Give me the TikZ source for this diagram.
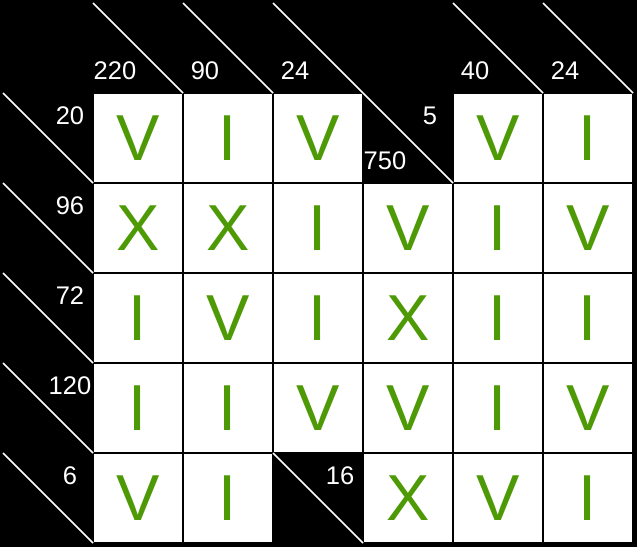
\documentclass[tikz,border=0pt]{standalone}
\usepackage{fontspec}
\setmainfont{Liberation Sans}
\definecolor{leafgreen}{RGB}{78,154,6}
\tikzset{
  cellnode/.style = {rectangle, inner sep=0pt, outer sep=0pt,
    minimum size=90pt, line width=1.5pt},
  letter/.style = {cellnode, draw=black, fill=white, text=leafgreen,
    font=\fontsize{65}{65}\selectfont},% white cell, green numeral
  blank/.style = {cellnode, fill=black},% black cell
  clue/.style = {inner sep=0pt, text=white,
    font=\fontsize{25.5}{25.5}\selectfont},
  slash/.style = {draw=white, line width=1.5pt}
}

\begin{document}
\begin{tikzpicture} [x=90pt, y=-90pt]
		\fill [black] ([xshift=-3pt,yshift=3pt]0,0) rectangle ([xshift=4pt,yshift=-4pt]7,6);
		% row 0
		\node [blank] (b00) at (0.5,0.5) {};
		\node [blank] (b01) at (1.5,0.5) {};
		\node [blank] (b02) at (2.5,0.5) {};
		\node [blank] (b03) at (3.5,0.5) {};
		\node [blank] (b04) at (4.5,0.5) {};
		\node [blank] (b05) at (5.5,0.5) {};
		\node [blank] (b06) at (6.5,0.5) {};
		% row 1
		\node [blank] (b10) at (0.5,1.5) {};
		\node [letter] (c11) at (1.5,1.5) {V};
		\node [letter] (c12) at (2.5,1.5) {I};
		\node [letter] (c13) at (3.5,1.5) {V};
		\node [blank] (b14) at (4.5,1.5) {};
		\node [letter] (c15) at (5.5,1.5) {V};
		\node [letter] (c16) at (6.5,1.5) {I};
		% row 2
		\node [blank] (b20) at (0.5,2.5) {};
		\node [letter] (c21) at (1.5,2.5) {X};
		\node [letter] (c22) at (2.5,2.5) {X};
		\node [letter] (c23) at (3.5,2.5) {I};
		\node [letter] (c24) at (4.5,2.5) {V};
		\node [letter] (c25) at (5.5,2.5) {I};
		\node [letter] (c26) at (6.5,2.5) {V};
		% row 3
		\node [blank] (b30) at (0.5,3.5) {};
		\node [letter] (c31) at (1.5,3.5) {I};
		\node [letter] (c32) at (2.5,3.5) {V};
		\node [letter] (c33) at (3.5,3.5) {I};
		\node [letter] (c34) at (4.5,3.5) {X};
		\node [letter] (c35) at (5.5,3.5) {I};
		\node [letter] (c36) at (6.5,3.5) {I};
		% row 4
		\node [blank] (b40) at (0.5,4.5) {};
		\node [letter] (c41) at (1.5,4.5) {I};
		\node [letter] (c42) at (2.5,4.5) {I};
		\node [letter] (c43) at (3.5,4.5) {V};
		\node [letter] (c44) at (4.5,4.5) {V};
		\node [letter] (c45) at (5.5,4.5) {I};
		\node [letter] (c46) at (6.5,4.5) {V};
		% row 5
		\node [blank] (b50) at (0.5,5.5) {};
		\node [letter] (c51) at (1.5,5.5) {V};
		\node [letter] (c52) at (2.5,5.5) {I};
		\node [blank] (b53) at (3.5,5.5) {};
		\node [letter] (c54) at (4.5,5.5) {X};
		\node [letter] (c55) at (5.5,5.5) {V};
		\node [letter] (c56) at (6.5,5.5) {I};
		% diagonals of the clue cells
		\draw [slash] (b01.north west) -- (b01.south east);
		\draw [slash] (b02.north west) -- (b02.south east);
		\draw [slash] (b03.north west) -- (b03.south east);
		\draw [slash] (b05.north west) -- (b05.south east);
		\draw [slash] (b06.north west) -- (b06.south east);
		\draw [slash] (b10.north west) -- (b10.south east);
		\draw [slash] (b14.north west) -- (b14.south east);
		\draw [slash] (b20.north west) -- (b20.south east);
		\draw [slash] (b30.north west) -- (b30.south east);
		\draw [slash] (b40.north west) -- (b40.south east);
		\draw [slash] (b50.north west) -- (b50.south east);
		\draw [slash] (b53.north west) -- (b53.south east);
		% column sums
		\node [clue] (s1) at ([xshift=22pt,yshift=22pt]b01.south west) {220};
		\node [clue] (s2) at ([xshift=22pt,yshift=22pt]b02.south west) {90};
		\node [clue] (s3) at ([xshift=22pt,yshift=22pt]b03.south west) {24};
		\node [clue] (s4) at ([xshift=22pt,yshift=22pt]b14.south west) {750};
		\node [clue] (s5) at ([xshift=22pt,yshift=22pt]b05.south west) {40};
		\node [clue] (s6) at ([xshift=22pt,yshift=22pt]b06.south west) {24};
		% row sums
		\node [clue] (t1) at ([xshift=-23pt,yshift=-23pt]b10.north east) {20};
		\node [clue] (t2) at ([xshift=-23pt,yshift=-23pt]b14.north east) {5};
		\node [clue] (t3) at ([xshift=-23pt,yshift=-23pt]b20.north east) {96};
		\node [clue] (t4) at ([xshift=-23pt,yshift=-23pt]b30.north east) {72};
		\node [clue] (t5) at ([xshift=-23pt,yshift=-23pt]b40.north east) {120};
		\node [clue] (t6) at ([xshift=-23pt,yshift=-23pt]b50.north east) {6};
		\node [clue] (t7) at ([xshift=-23pt,yshift=-23pt]b53.north east) {16};
	\end{tikzpicture}
\end{document}
